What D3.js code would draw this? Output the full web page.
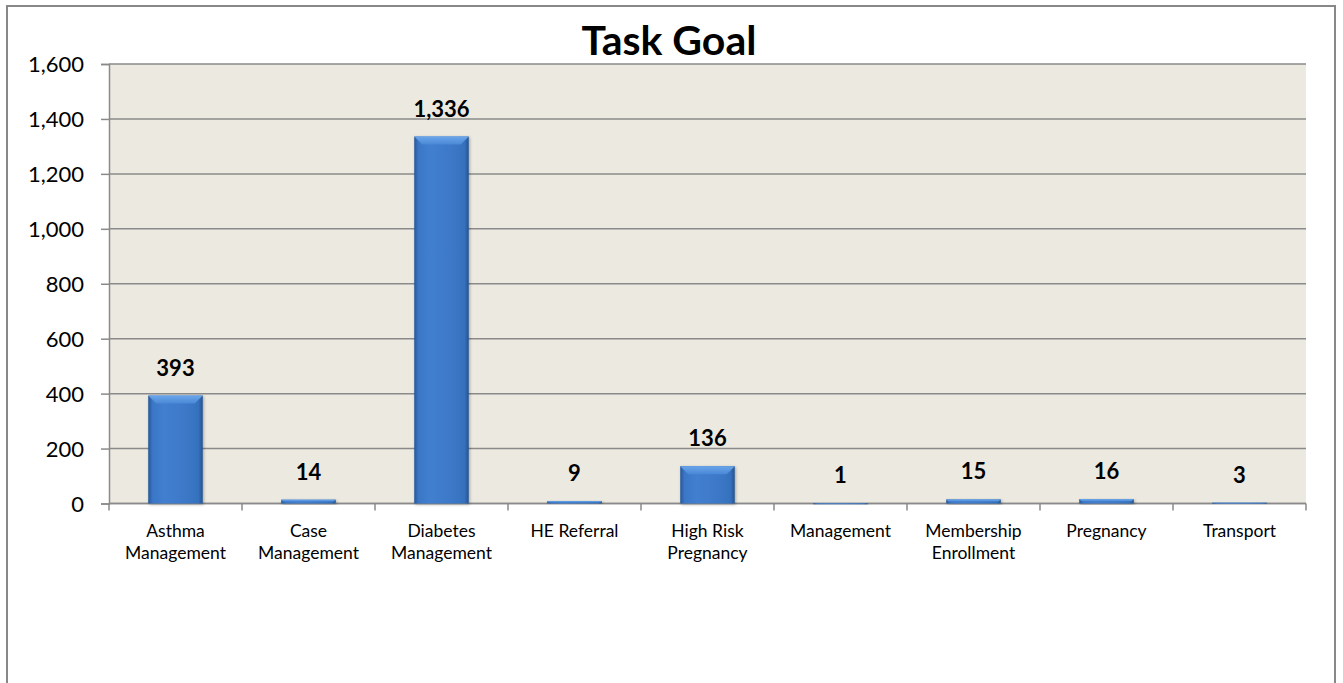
<!DOCTYPE html>
<html>
<head>
<meta charset="utf-8">
<script src="https://cdn.jsdelivr.net/npm/d3@7"></script>
<style>
  html, body { margin: 0; padding: 0; background: #fff; }
  svg { display: block; font-family: Lato, "Open Sans", sans-serif; }
</style>
</head>
<body>
<svg id="chart" width="1343" height="683"></svg>
<script>
// Task goal counts per program
const categories = [
  ["Asthma", "Management"],
  ["Case", "Management"],
  ["Diabetes", "Management"],
  ["HE Referral"],
  ["High Risk", "Pregnancy"],
  ["Management"],
  ["Membership", "Enrollment"],
  ["Pregnancy"],
  ["Transport"]
];
const values = [393, 14, 1336, 9, 136, 1, 15, 16, 3];
const yTicks = [0, 200, 400, 600, 800, 1000, 1200, 1400, 1600];
const title = "Task Goal";

const svg = d3.select("#chart");
const plot = { left: 109, right: 1306, top: 64, bottom: 503.5 };

const keys = categories.map(c => c.join(" "));
const x = d3.scaleBand().domain(keys).range([plot.left, plot.right])
  .paddingInner(0.59).paddingOuter(0.295);
const xBand = d3.scaleBand().domain(keys).range([plot.left, plot.right]);
const y = d3.scaleLinear().domain([0, 1600]).range([plot.bottom, plot.top]);

// outer chart frame
svg.append("rect").attr("x", 7).attr("y", 6).attr("width", 1328).attr("height", 700)
  .attr("fill", "#fff").attr("stroke", "#888").attr("stroke-width", 2);

// gradients for the bevelled bars
const defs = svg.append("defs");
const g1 = defs.append("linearGradient").attr("id", "barBody").attr("x1", 0).attr("x2", 1).attr("y1", 0).attr("y2", 0);
[[0, "#27579a"], [0.08, "#3a77c6"], [0.3, "#427fcf"], [0.7, "#3c78c7"], [0.92, "#3571bd"], [1, "#255490"]]
  .forEach(([o, c]) => g1.append("stop").attr("offset", o).attr("stop-color", c));
const g2 = defs.append("linearGradient").attr("id", "barTop").attr("x1", 0).attr("x2", 0).attr("y1", 0).attr("y2", 1);
[[0, "#6aa6ea"], [1, "#4a88d6"]]
  .forEach(([o, c]) => g2.append("stop").attr("offset", o).attr("stop-color", c));
const shadow = defs.append("filter").attr("id", "shadow").attr("x", "-20%").attr("y", "-20%").attr("width", "140%").attr("height", "140%");
shadow.append("feDropShadow").attr("dx", 1).attr("dy", 1).attr("stdDeviation", 1.5)
  .attr("flood-color", "#000").attr("flood-opacity", 0.3);

// plot area
svg.append("rect").attr("x", plot.left).attr("y", plot.top)
  .attr("width", plot.right - plot.left).attr("height", plot.bottom - plot.top)
  .attr("fill", "#ece9e0");

// horizontal gridlines
svg.append("g").selectAll("line").data(yTicks).join("line")
  .attr("x1", plot.left).attr("x2", plot.right)
  .attr("y1", d => y(d)).attr("y2", d => y(d))
  .attr("stroke", "#8a8a8a").attr("stroke-width", 1.5);

// y axis
const yAxis = svg.append("g").attr("transform", `translate(${plot.left},0)`)
  .call(d3.axisLeft(y).tickValues(yTicks).tickSize(8).tickPadding(17).tickFormat(d3.format(",")));
yAxis.select(".domain").attr("stroke", "#8a8a8a").attr("stroke-width", 1.5);
yAxis.selectAll(".tick line").attr("stroke", "#8a8a8a").attr("stroke-width", 1.5);
yAxis.selectAll(".tick text").attr("fill", "#000").style("font-size", "22px")
  .style("font-family", "Lato, sans-serif").attr("dy", "0.36em");

// x axis line and tick marks at band boundaries
const xAxisG = svg.append("g");
xAxisG.append("line").attr("x1", plot.left).attr("x2", plot.right)
  .attr("y1", plot.bottom).attr("y2", plot.bottom)
  .attr("stroke", "#8a8a8a").attr("stroke-width", 1.5);
const bounds = keys.map(k => xBand(k)).concat([plot.right]);
xAxisG.selectAll("line.tk").data(bounds).join("line").attr("class", "tk")
  .attr("x1", d => d).attr("x2", d => d)
  .attr("y1", plot.bottom).attr("y2", plot.bottom + 7)
  .attr("stroke", "#8a8a8a").attr("stroke-width", 1.5);

// category labels
const catLabels = xAxisG.selectAll("text.cat").data(categories).join("text").attr("class", "cat")
  .attr("x", (d, i) => x(keys[i]) + x.bandwidth() / 2)
  .attr("y", 537)
  .attr("text-anchor", "middle")
  .style("font-size", "17.5px").attr("fill", "#000");
catLabels.selectAll("tspan").data(d => d).join("tspan")
  .attr("x", function () { return d3.select(this.parentNode).attr("x"); })
  .attr("dy", (d, i) => i === 0 ? 0 : 22)
  .text(d => d);

// bars
const bars = svg.append("g").selectAll("g").data(values).join("g")
  .attr("filter", "url(#shadow)");
bars.append("rect")
  .attr("x", (d, i) => x(keys[i]))
  .attr("y", d => y(d))
  .attr("width", x.bandwidth())
  .attr("height", d => Math.max(plot.bottom - y(d), 1))
  .attr("fill", "url(#barBody)");
// top bevel
bars.append("path")
  .attr("d", (d, i) => {
    const x0 = x(keys[i]), w = x.bandwidth(), t = y(d);
    const h = Math.min(8, (plot.bottom - t) / 2);
    return `M${x0},${t}L${x0 + w},${t}L${x0 + w - h},${t + h}L${x0 + h},${t + h}Z`;
  })
  .attr("fill", "url(#barTop)");

// value labels
svg.append("g").selectAll("text").data(values).join("text")
  .attr("x", (d, i) => x(keys[i]) + x.bandwidth() / 2)
  .attr("y", d => y(d) - 20)
  .attr("text-anchor", "middle")
  .style("font-size", "22px").style("font-weight", "bold").attr("fill", "#000")
  .text(d => d3.format(",")(d));

// title
svg.append("text").attr("x", 669).attr("y", 55).attr("text-anchor", "middle")
  .style("font-size", "41px").style("font-weight", "bold").attr("fill", "#000")
  .text(title);
</script>
</body>
</html>
